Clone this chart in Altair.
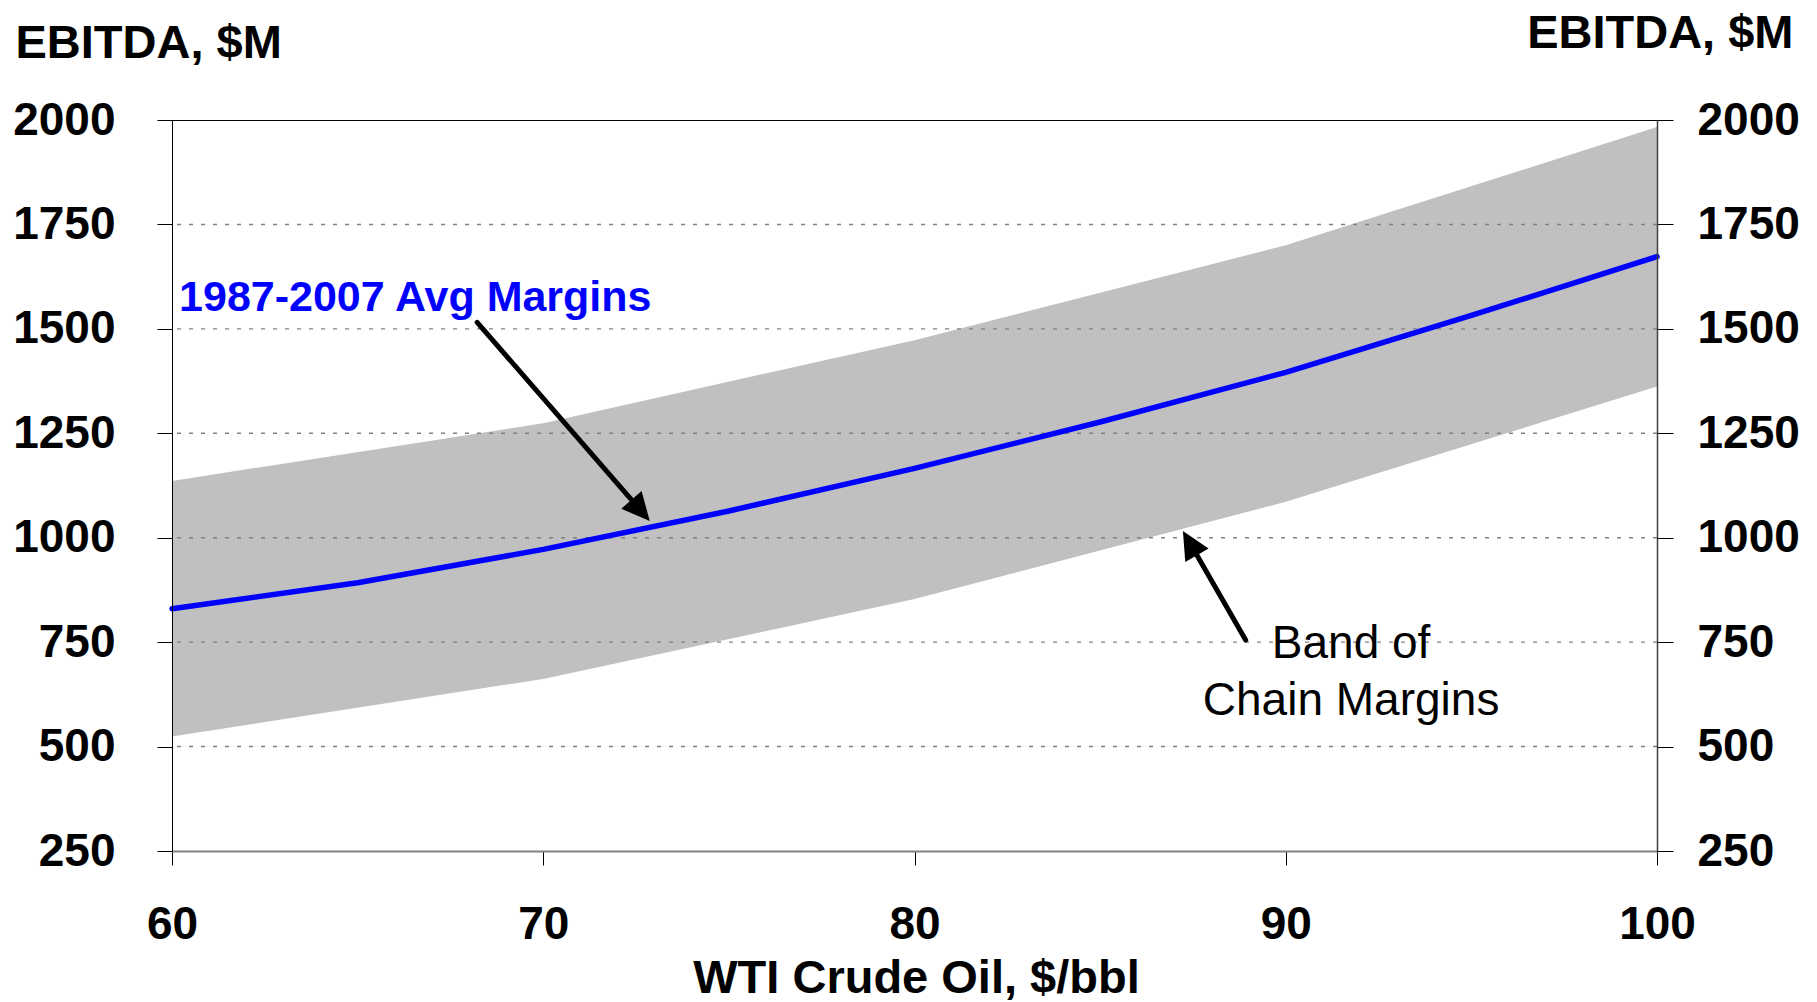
import altair as alt
import pandas as pd

# ---------------- data ----------------
wti_band = [60, 70, 80, 90, 100]
band_low = [524, 662, 853, 1086, 1362]
band_high = [1136, 1274, 1473, 1700, 1983]

wti_avg = [60, 65, 70, 75, 80, 85, 90, 95, 100]
avg_margin = [830, 892, 972, 1064, 1166, 1277, 1396, 1532, 1673]

grid_values = [500, 750, 1000, 1250, 1500, 1750]
y_ticks = [250, 500, 750, 1000, 1250, 1500, 1750, 2000]
x_ticks = [60, 70, 80, 90, 100]

# annotation arrows (data units)
arrow_x_tail = [68.22, 88.92]
arrow_y_tail = [1515.6, 755]
arrow_x_end = [72.56, 87.50]
arrow_y_end = [1072, 974.6]
arrow_x_tip = [72.87, 87.23]
arrow_y_tip = [1040, 1016]
arrow_angle = [139, 330]

avg_label = ["1987-2007 Avg Margins"]
avg_label_x = [60.19]
avg_label_y = [1542]

band_label_lines = ["Band of", "Chain Margins"]
band_label_x = [91.76, 91.76]
band_label_y = [712, 575.5]

# ---------------- tables ----------------
band_df = pd.DataFrame({"x": wti_band, "lo": band_low, "hi": band_high})
avg_df = pd.DataFrame({"x": wti_avg, "y": avg_margin})
grid_df = pd.DataFrame({"y": grid_values})
arrow_df = pd.DataFrame({
    "x": arrow_x_tail, "y": arrow_y_tail,
    "x2": arrow_x_end, "y2": arrow_y_end,
    "xt": arrow_x_tip, "yt": arrow_y_tip, "angle": arrow_angle,
})
avg_lab_df = pd.DataFrame({"x": avg_label_x, "y": avg_label_y, "t": avg_label})
band_lab_df = pd.DataFrame({"x": band_label_x, "y": band_label_y, "t": band_label_lines})

FONT = "Liberation Sans"

xscale = alt.Scale(domain=[60, 100], nice=False, zero=False)
yscale = alt.Scale(domain=[250, 2000], nice=False, zero=False)

x_axis = alt.Axis(
    values=x_ticks, title="WTI Crude Oil, $/bbl", format="d",
    titleFont=FONT, titleFontSize=47, titleFontWeight="bold", titleColor="black",
    titleX=744, titleY=141, titleAlign="center", titleBaseline="alphabetic",
    labelFont=FONT, labelFontSize=46, labelFontWeight="bold", labelColor="black",
    labelPadding=37, tickSize=14, tickColor="black", tickWidth=1,
    domainColor="#808080", domainWidth=2, grid=False,
    labelFlush=False, labelOverlap=False, labelBound=False, zindex=1,
)

y_axis_left = alt.Axis(
    values=y_ticks, title="EBITDA, $M", orient="left", format="d",
    titleFont=FONT, titleFontSize=47, titleFontWeight="bold", titleColor="black",
    titleAngle=0, titleX=-157, titleY=-63, titleAlign="left", titleBaseline="alphabetic",
    labelFont=FONT, labelFontSize=46, labelFontWeight="bold", labelColor="black",
    labelPadding=42, tickSize=15, tickColor="black", tickWidth=1,
    domainColor="black", domainWidth=1, grid=False,
    labelFlush=False, labelOverlap=False, labelBound=False, zindex=1,
)

y_axis_right = alt.Axis(
    values=y_ticks, title="EBITDA, $M", orient="right", format="d",
    titleFont=FONT, titleFontSize=47, titleFontWeight="bold", titleColor="black",
    titleAngle=0, titleX=136, titleY=-73, titleAlign="right", titleBaseline="alphabetic",
    labelFont=FONT, labelFontSize=46, labelFontWeight="bold", labelColor="black",
    labelPadding=24, tickSize=16, tickColor="black", tickWidth=1,
    domainColor="#404040", domainWidth=1.5, grid=False,
    labelFlush=False, labelOverlap=False, labelBound=False, zindex=1,
)

X = lambda f: alt.X(f, type="quantitative", scale=xscale, axis=x_axis)
Y = lambda f: alt.Y(f, type="quantitative", scale=yscale, axis=y_axis_left)

band = alt.Chart(band_df).mark_area(color="#C0C0C0", opacity=1).encode(
    x=X("x"), y=Y("lo"), y2="hi"
)

grid = alt.Chart(grid_df).mark_rule(
    color="#808080", strokeWidth=1.4, strokeDash=[4, 8]
).encode(y=Y("y"))

shafts = alt.Chart(arrow_df).mark_rule(
    color="black", strokeWidth=5, strokeCap="round"
).encode(x=X("x"), y=Y("y"), x2="x2", y2="y2")

heads = alt.Chart(arrow_df).mark_point(
    shape="M0,0L-0.96,2L0.96,2Z", filled=True, color="black",
    opacity=1, size=784, strokeWidth=0
).encode(x=X("xt"), y=Y("yt"), angle=alt.Angle("angle:Q", scale=None))

avg_text = alt.Chart(avg_lab_df).mark_text(
    font=FONT, fontSize=43, fontWeight="bold", color="#0000FF",
    align="left", baseline="alphabetic"
).encode(x=X("x"), y=Y("y"), text="t:N")

band_text = alt.Chart(band_lab_df).mark_text(
    font=FONT, fontSize=46, fontWeight="normal", color="black",
    align="center", baseline="alphabetic"
).encode(x=X("x"), y=Y("y"), text="t:N")

main = alt.layer(band, grid, shafts, heads, avg_text, band_text)

line = alt.Chart(avg_df).mark_line(
    color="#0000FF", strokeWidth=5.5, strokeCap="round", strokeJoin="round"
).encode(
    x=X("x"),
    y=alt.Y("y", type="quantitative", scale=yscale, axis=y_axis_right),
)

chart = alt.layer(main, line).resolve_scale(y="independent").properties(
    width=1485, height=731,
    autosize=alt.AutoSizeParams(type="none"),
    padding={"left": 172, "top": 120, "right": 160, "bottom": 151},
    background="white",
).configure_view(stroke="black", strokeWidth=1)

chart.save("out.html", embed_options={"renderer": "svg", "actions": False})
